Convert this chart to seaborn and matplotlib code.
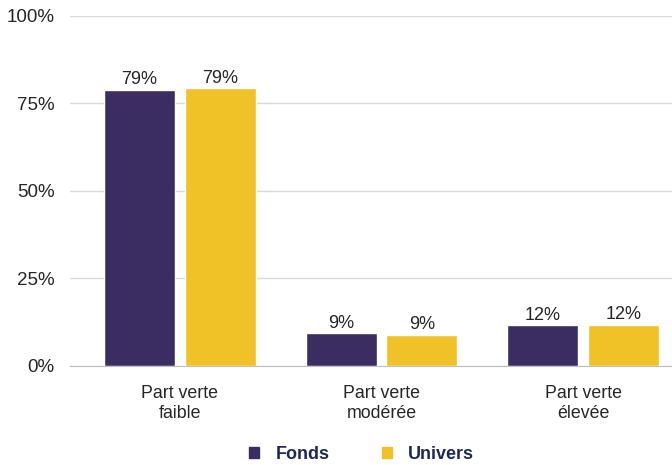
import pandas as pd
import seaborn as sns
import matplotlib.pyplot as plt
from matplotlib.ticker import PercentFormatter

# Data
categories = ["Part verte\nfaible", "Part verte\nmodérée", "Part verte\nélevée"]
fonds = [78.9, 9.4, 11.6]
univers = [79.4, 8.9, 11.8]
labels_fonds = ["79%", "9%", "12%"]
labels_univers = ["79%", "9%", "12%"]

df = pd.DataFrame({
    "cat": categories * 2,
    "serie": ["Fonds"] * 3 + ["Univers"] * 3,
    "val": fonds + univers,
})

sns.set_style("white")
plt.rcParams["font.family"] = ["Liberation Sans", "DejaVu Sans"]

fig = plt.figure(figsize=(6.72, 4.65), dpi=100)
ax = fig.add_axes([0.104, 0.213, 0.896, 0.753])

sns.barplot(data=df, x="cat", y="val", hue="serie",
            palette={"Fonds": "#3b2d62", "Univers": "#f0c228"},
            saturation=1, width=0.8, gap=0.12, ax=ax, legend=False)

for cont, labs in zip(ax.containers, [labels_fonds, labels_univers]):
    ax.bar_label(cont, labels=labs, fontsize=13, color="#262626", padding=1)

ax.set_ylim(0, 100)
ax.set_xlim(-0.545, 2.44)
ax.set_yticks([0, 25, 50, 75, 100])
ax.yaxis.set_major_formatter(PercentFormatter(decimals=0))
ax.grid(axis="y", color="#d9d9d9", linewidth=1)
ax.set_axisbelow(True)
for s in ["top", "right", "left"]:
    ax.spines[s].set_visible(False)
ax.spines["bottom"].set_color("#bfbfbf")
ax.tick_params(axis="y", length=0, pad=11, labelsize=13.5, labelcolor="#262626")
ax.tick_params(axis="x", length=0, pad=14, labelsize=12.8, labelcolor="#262626")
ax.set_xlabel("")
ax.set_ylabel("")

handles = [plt.Rectangle((0, 0), 1, 1, color="#3b2d62"),
           plt.Rectangle((0, 0), 1, 1, color="#f0c228")]
fig.legend(handles, ["Fonds", "Univers"], loc="lower center",
           bbox_to_anchor=(0.538, -0.03), ncol=2, frameon=False,
           handlelength=0.55, handleheight=0.55, handletextpad=0.9,
           columnspacing=2.9,
           prop={"weight": "bold", "size": 13}, labelcolor="#1c2957")

fig.savefig("out.png", dpi=100)
